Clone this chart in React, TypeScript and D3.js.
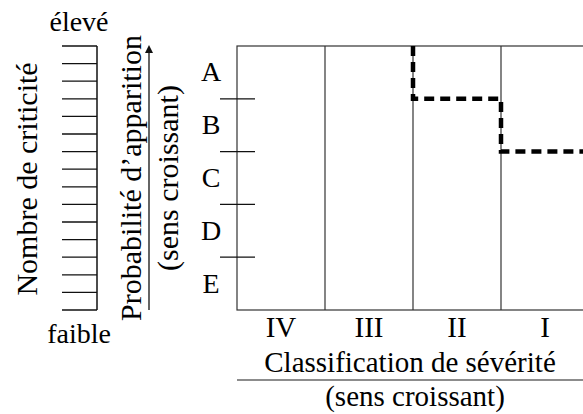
import { useEffect, useRef } from "react";
import * as d3 from "d3";

const severities = ["IV", "III", "II", "I"];
const probabilities = ["A", "B", "C", "D", "E"];
// step line: for each severity column, the probability boundary it sits on (0 = top)
const stepStart = { severity: "II", level: 0 };
const stepLevels = [
  { severity: "II", level: 1 },
  { severity: "I", level: 2 },
];
const criticityTicks = d3.range(16);

const W = 583;
const H = 414;
const FONT = "'Liberation Serif', 'Times New Roman', serif";

export default function App() {
  const ref = useRef<SVGSVGElement>(null);

  useEffect(() => {
    const svg = d3.select(ref.current);
    svg.selectAll("*").remove();

    const left = 237, right = 589, top = 46, bottom = 310;

    const x = d3.scaleBand<string>().domain(severities).range([left, right]);
    const y = d3.scaleBand<string>().domain(probabilities).range([top, bottom]);
    const yLevel = d3.scaleLinear().domain([0, probabilities.length]).range([top, bottom]);
    const yCrit = d3.scaleLinear().domain([0, 15]).range([bottom, top]);

    // plot box + column separators
    svg.append("rect")
      .attr("x", left).attr("y", top)
      .attr("width", right - left).attr("height", bottom - top)
      .attr("fill", "none").attr("stroke", "#333").attr("stroke-width", 1.2);

    svg.append("g").selectAll("line")
      .data(severities.slice(1))
      .join("line")
      .attr("x1", (d) => x(d)!).attr("x2", (d) => x(d)!)
      .attr("y1", top).attr("y2", bottom)
      .attr("stroke", "#333").attr("stroke-width", 1.2);

    // probability ticks between rows
    svg.append("g").selectAll("line")
      .data(d3.range(1, probabilities.length))
      .join("line")
      .attr("x1", 220).attr("x2", 255)
      .attr("y1", (d) => yLevel(d)).attr("y2", (d) => yLevel(d))
      .attr("stroke", "#111").attr("stroke-width", 1.3);

    svg.append("g").selectAll("text")
      .data(probabilities)
      .join("text")
      .attr("x", 211)
      .attr("y", (d) => y(d)! + y.bandwidth() / 2 + 9)
      .attr("text-anchor", "middle")
      .attr("font-family", FONT).attr("font-size", 28)
      .text((d) => d);

    // severity labels
    svg.append("g").selectAll("text")
      .data(severities)
      .join("text")
      .attr("x", (d) => x(d)! + x.bandwidth() / 2)
      .attr("y", 337)
      .attr("text-anchor", "middle")
      .attr("font-family", FONT).attr("font-size", 29)
      .text((d) => d);

    svg.append("text")
      .attr("x", 410).attr("y", 372)
      .attr("text-anchor", "middle")
      .attr("font-family", FONT).attr("font-size", 29)
      .text("Classification de sévérité");

    svg.append("line")
      .attr("x1", left).attr("x2", W)
      .attr("y1", 380).attr("y2", 380)
      .attr("stroke", "#666").attr("stroke-width", 1.5);

    svg.append("text")
      .attr("x", 415).attr("y", 406)
      .attr("text-anchor", "middle")
      .attr("font-family", FONT).attr("font-size", 29)
      .text("(sens croissant)");

    // dashed step line
    const pts: [number, number][] = [[x(stepStart.severity)!, yLevel(stepStart.level)]];
    let prev = stepStart.level;
    stepLevels.forEach((s) => {
      const sx = x(s.severity)!;
      pts.push([sx, yLevel(prev)]);
      pts.push([sx, yLevel(s.level)]);
      prev = s.level;
    });
    const last = stepLevels[stepLevels.length - 1];
    pts.push([x(last.severity)! + x.bandwidth(), yLevel(prev)]);

    svg.append("path")
      .attr("d", d3.line()(pts))
      .attr("fill", "none")
      .attr("stroke", "#000")
      .attr("stroke-width", 4.5)
      .attr("stroke-dasharray", "10,6");

    // criticity scale
    const cx = 97;
    svg.append("line")
      .attr("x1", cx).attr("x2", cx)
      .attr("y1", top).attr("y2", bottom)
      .attr("stroke", "#111").attr("stroke-width", 1.5);
    svg.append("g").selectAll("line")
      .data(criticityTicks)
      .join("line")
      .attr("x1", 62).attr("x2", cx)
      .attr("y1", (d) => yCrit(d)).attr("y2", (d) => yCrit(d))
      .attr("stroke", "#111").attr("stroke-width", 1.3);

    svg.append("text")
      .attr("x", 79).attr("y", 31)
      .attr("text-anchor", "middle")
      .attr("font-family", FONT).attr("font-size", 28)
      .text("élevé");
    svg.append("text")
      .attr("x", 79).attr("y", 343)
      .attr("text-anchor", "middle")
      .attr("font-family", FONT).attr("font-size", 28)
      .text("faible");

    const rot = (tx: number, ty: number, txt: string) =>
      svg.append("text")
        .attr("transform", `translate(${tx},${ty}) rotate(-90)`)
        .attr("text-anchor", "middle")
        .attr("font-family", FONT).attr("font-size", 30)
        .text(txt);

    rot(37, 179, "Nombre de criticité");
    rot(141, 178, "Probabilité d’apparition");
    rot(178, 178, "(sens croissant)");

    // arrow
    svg.append("line")
      .attr("x1", 149).attr("x2", 149)
      .attr("y1", bottom).attr("y2", 50)
      .attr("stroke", "#111").attr("stroke-width", 1.3);
    svg.append("path")
      .attr("d", d3.line()([[149, 45], [145, 53], [153, 53]]) + "Z")
      .attr("fill", "#111");
  }, []);

  return (
    <div style={{ position: "fixed", left: 0, top: 0 }}>
      <svg ref={ref} width={W} height={H} style={{ display: "block", background: "#fff" }} />
    </div>
  );
}
